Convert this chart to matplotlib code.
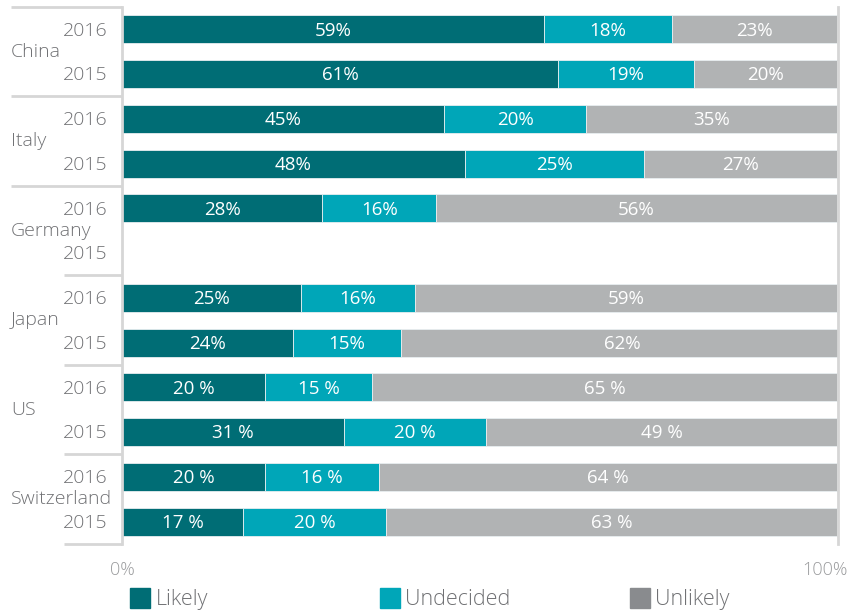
import numpy as np
import matplotlib
matplotlib.use('Agg')
import matplotlib.pyplot as plt
from matplotlib.transforms import ScaledTranslation

plt.rcParams['font.family'] = ['Open Sans', 'DejaVu Sans']

countries = ['China', 'Italy', 'Germany', 'Japan', 'US', 'Switzerland']
years = ['2016', '2015']
# rows: country x year, top to bottom (nan = no data)
likely = [59, 61, 45, 48, 28, np.nan, 25, 24, 20, 31, 20, 17]
undecided = [18, 19, 20, 25, 16, np.nan, 16, 15, 15, 20, 16, 20]
unlikely = [23, 20, 35, 27, 56, np.nan, 59, 62, 65, 49, 64, 63]
# US and Switzerland were printed with a space before the percent sign
suffix = ['%'] * 8 + [' %'] * 4

c_likely = '#006d75'
c_undec = '#00a6b8'
c_unlik = '#b1b3b4'
c_unlik_leg = '#898b8e'
c_text = '#707174'
c_line = '#d6d6d6'

fig = plt.figure(figsize=(8.5, 6.14), dpi=100)
ax = fig.add_axes([122/850, 1-544/614, 716/850, 537/614])

y = np.arange(len(likely))
lk = np.array(likely, dtype=float)
ud = np.array(undecided, dtype=float)
ul = np.array(unlikely, dtype=float)
h = 0.63
b1 = ax.barh(y, lk, height=h, color=c_likely, edgecolor='#e8eef0', linewidth=0.6, label='Likely')
b2 = ax.barh(y, ud, left=lk, height=h, color=c_undec, edgecolor='#e8eef0', linewidth=0.6, label='Undecided')
b3 = ax.barh(y, ul, left=lk+ud, height=h, color=c_unlik, edgecolor='#e8eef0', linewidth=0.6, label='Unlikely')

for bars, vals in [(b1, lk), (b2, ud), (b3, ul)]:
    for i, (r, v) in enumerate(zip(bars, vals)):
        if np.isnan(v):
            continue
        ax.text(r.get_x() + r.get_width()/2, r.get_y() + r.get_height()/2 + 0.03,
                f'{int(v)}{suffix[i]}', ha='center', va='center',
                color='white', fontsize=13.5)

ax.set_xlim(0, 100.2)
ax.set_ylim(len(likely) - 0.5, -0.5)

for s in ['top', 'bottom']:
    ax.spines[s].set_visible(False)
for s in ['left', 'right']:
    ax.spines[s].set_color(c_line)
    ax.spines[s].set_linewidth(2)

ax.set_yticks([])
ax.set_xticks([0, 100])
ax.set_xticklabels(['0%', '100%'])
ax.tick_params(axis='x', length=0, pad=12, labelsize=13, labelcolor='#9a9b9d')
lbls = ax.get_xticklabels()
for lb in lbls:
    lb.set_fontweight('light')
lbls[1].set_transform(lbls[1].get_transform() + ScaledTranslation(-12/100, 0, fig.dpi_scale_trans))

# year and country labels + group separators
for i in range(len(likely)):
    ax.text(-0.02, i + 0.03, years[i % 2], transform=ax.get_yaxis_transform(),
            ha='right', va='center', fontsize=14, color=c_text, fontweight='light')
for g, name in enumerate(countries):
    ax.text(-111/716, 2*g + 0.5, name, transform=ax.get_yaxis_transform(),
            ha='left', va='center', fontsize=14, color=c_text, fontweight='light')
for g in range(len(countries) + 1):
    x0 = -111/716 if g <= 2 else -58/716
    ax.plot([x0, 0], [2*g - 0.5, 2*g - 0.5], transform=ax.get_yaxis_transform(),
            color=c_line, lw=2, clip_on=False, solid_capstyle='butt')

# legend: three entries spaced evenly along the bottom
names = ['Likely', 'Undecided', 'Unlikely']
for k, (nm, c) in enumerate(zip(names, [c_likely, c_undec, c_unlik_leg])):
    fig.legend([plt.Rectangle((0, 0), 1, 1, color=c)], [nm], loc='lower left',
               bbox_to_anchor=((121 + 250*k)/850, -0.008), frameon=False,
               handlelength=0.95, handleheight=1.0, handletextpad=0.25,
               borderaxespad=0.0, prop={'size': 15.5, 'weight': 'light'}, labelcolor=c_text)

fig.savefig('out.png', dpi=100)
